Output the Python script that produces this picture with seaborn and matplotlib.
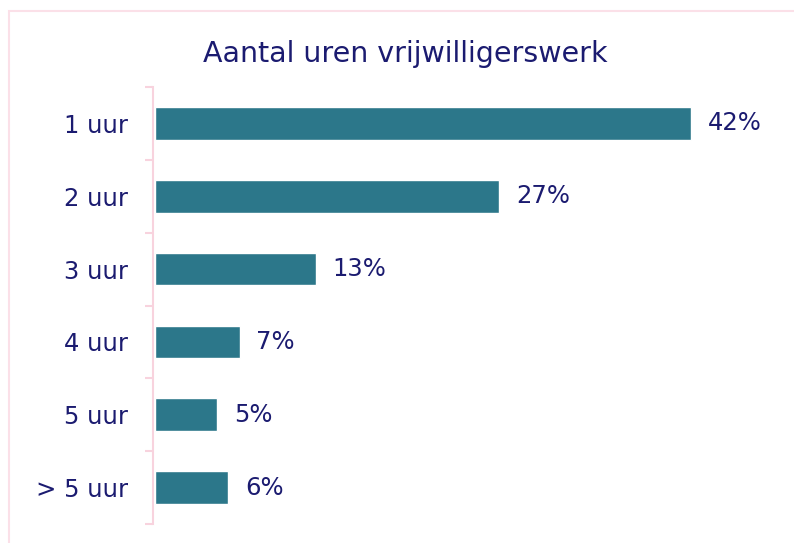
import matplotlib.pyplot as plt
import matplotlib.patches as mpatches
import seaborn as sns
import pandas as pd

categories = ["1 uur", "2 uur", "3 uur", "4 uur", "5 uur", "> 5 uur"]
values = [42.4, 27.2, 12.7, 6.7, 4.9, 5.8]
value_labels = ["42%", "27%", "13%", "7%", "5%", "6%"]

bar_color = "#2C778A"
text_color = "#1B1B70"
pink = "#F8D3DE"

sns.set_theme(style="white")
plt.rcParams["font.family"] = ["DejaVu Sans"]

df = pd.DataFrame({"uren": categories, "aandeel": values})

fig = plt.figure(figsize=(7.94, 5.43), dpi=100)
ax = fig.add_axes([153 / 794, 1 - 524 / 543, (780 - 153) / 794, (524 - 87) / 543])

sns.barplot(data=df, x="aandeel", y="uren", orient="h", color=bar_color,
            width=0.45, saturation=1, ax=ax)
ax.bar_label(ax.containers[0], labels=value_labels, padding=12,
             fontsize=17.5, color=text_color)

ax.set_xlim(-0.16, 49.4)
ax.set_ylim(5.5, -0.5)
ax.set_xlabel("")
ax.set_ylabel("")
ax.set_xticks([])

for side in ["top", "right", "bottom"]:
    ax.spines[side].set_visible(False)
ax.spines["left"].set_color(pink)
ax.spines["left"].set_linewidth(1.5)

ax.set_yticks(range(len(categories)))
ax.set_yticklabels(categories, fontsize=17.5, color=text_color)
ax.tick_params(axis="y", which="major", length=0, pad=18)
ax.set_yticks([i - 0.5 for i in range(len(categories) + 1)], minor=True)
ax.tick_params(axis="y", which="minor", length=6, width=1.5, color=pink, left=True)

fig.text(405 / 794, 1 - 62 / 543, "Aantal uren vrijwilligerswerk",
         ha="center", va="baseline", fontsize=20.5, color=text_color)

border = mpatches.Rectangle((9 / 794, -0.05), 1.1, 1 - 11 / 543 + 0.05,
                            transform=fig.transFigure, fill=False,
                            edgecolor="#FBE0E8", linewidth=1.5)
fig.patches.append(border)

fig.savefig("out.png", dpi=100)
